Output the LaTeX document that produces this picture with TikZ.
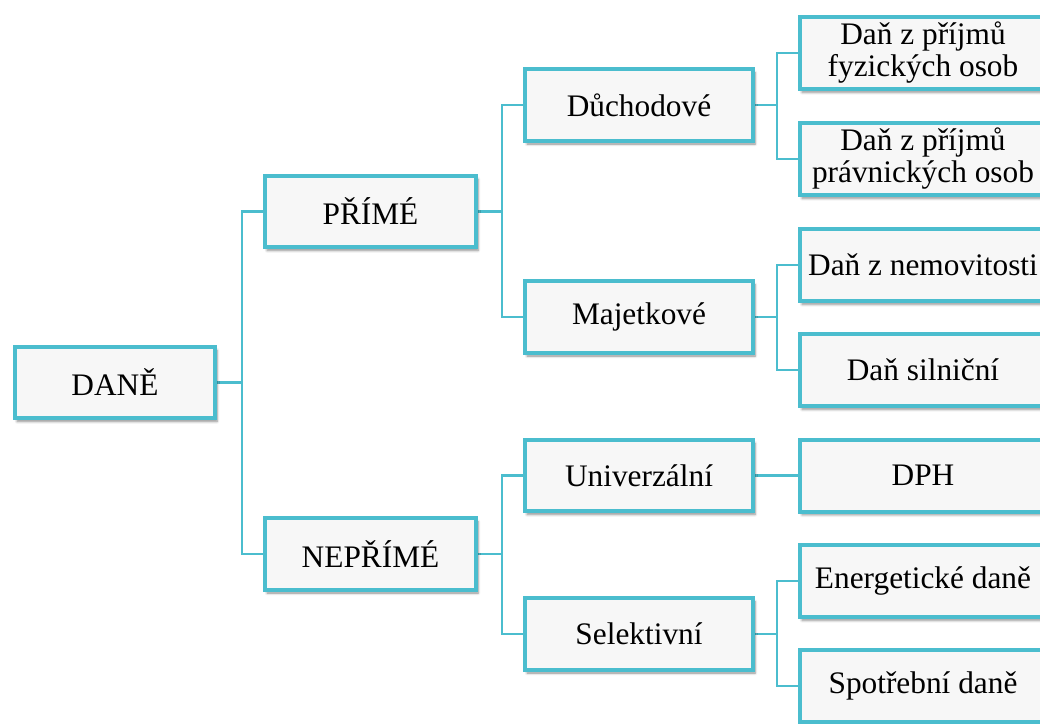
\documentclass[tikz,border=0pt]{standalone}
\usepackage{fontspec}
\setmainfont{Liberation Serif}
\usetikzlibrary{shadows.blur,backgrounds,calc}
\definecolor{teal1}{RGB}{75,189,206}
\definecolor{boxfill}{RGB}{247,247,247}
\tikzset{
  box/.style={draw=teal1, line width=3pt, fill=boxfill, inner sep=0pt,
    minimum height=53.5pt, align=center,
    font=\fontsize{23.5}{24}\selectfont,
    blur shadow={shadow xshift=1.5pt, shadow yshift=-2.5pt, shadow blur steps=6, shadow opacity=45}},
  c1/.style={box, minimum width=150pt},
  c2/.style={box, minimum width=158.25pt},
  c3/.style={box, minimum width=171pt},
  c4/.style={box, minimum width=184.5pt, minimum height=54pt},
  conn/.style={draw=teal1, line width=2.2pt}
}
\begin{document}
\begin{tikzpicture}[x=0.75pt,y=-0.75pt]
\useasboundingbox (0,0) rectangle (1040,724);
\clip (0,0) rectangle (1040,724);
% column 1
\node[c1] (dane) at (115,382.5) {DANĚ};
% column 2
\node[c2] (prime) at (370.5,211.5) {PŘÍMÉ};
\node[c2] (neprime) at (370.5,554) {NEPŘÍMÉ};
% column 3
\node[c3] (duch) at (639,105) {Důchodové};
\node[c3] (maj) at (639,317) {Majetkové};
\node[c3] (univ) at (639,475.5) {Univerzální};
\node[c3] (sel) at (639,634) {Selektivní};
% column 4
\node[c4] (dpfo) at (923,53) {Daň z příjmů\\fyzických osob};
\node[c4] (dppo) at (923,159) {Daň z příjmů\\právnických osob};
\node[c4] (nem) at (923,265) {Daň z nemovitosti};
\node[c4] (siln) at (923,370) {Daň silniční};
\node[c4] (dph) at (923,475.5) {DPH};
\node[c4] (ener) at (923,581) {Energetické daně};
\node[c4] (spot) at (923,686) {Spotřební daně};
\begin{scope}[on background layer]
\coordinate (j1) at ($(dane.east)+(25,0)$);
\draw[conn] (dane.east) -- (j1);
\draw[conn] (j1) |- (prime.west);
\draw[conn] (j1) |- (neprime.west);
\coordinate (j2) at ($(prime.east)+(24,0)$);
\draw[conn] (prime.east) -- (j2);
\draw[conn] (j2) |- (duch.west);
\draw[conn] (j2) |- (maj.west);
\coordinate (j3) at ($(neprime.east)+(24,0)$);
\draw[conn] (neprime.east) -- (j3);
\draw[conn] (j3) |- (univ.west);
\draw[conn] (j3) |- (sel.west);
\coordinate (j4) at ($(duch.east)+(22,0)$);
\draw[conn] (duch.east) -- (j4);
\draw[conn] (j4) |- (dpfo.west);
\draw[conn] (j4) |- (dppo.west);
\coordinate (j5) at ($(maj.east)+(22,0)$);
\draw[conn] (maj.east) -- (j5);
\draw[conn] (j5) |- (nem.west);
\draw[conn] (j5) |- (siln.west);
\draw[conn] (univ.east) -- (dph.west);
\coordinate (j6) at ($(sel.east)+(22,0)$);
\draw[conn] (sel.east) -- (j6);
\draw[conn] (j6) |- (ener.west);
\draw[conn] (j6) |- (spot.west);
\end{scope}
\end{tikzpicture}
\end{document}
